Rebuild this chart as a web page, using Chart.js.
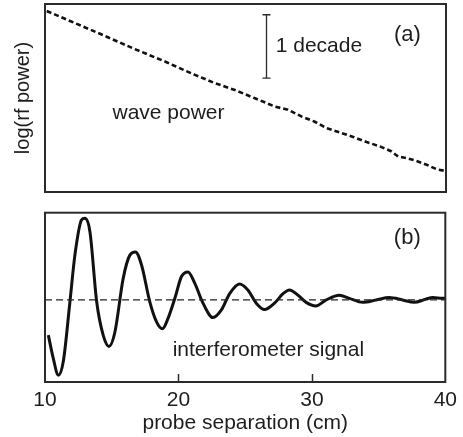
<!DOCTYPE html>
<html>
<head>
<meta charset="utf-8">
<script src="https://cdn.jsdelivr.net/npm/chart.js@4/dist/chart.umd.min.js"></script>
<style>
  html, body { margin: 0; padding: 0; background: #fff; }
  #wrap { position: relative; width: 463px; height: 437px; }
  #powerChart { position: absolute; left: 0; top: 0; }
  #signalChart { position: absolute; left: 0; top: 200px; }
</style>
</head>
<body>
<div id="wrap">
  <canvas id="powerChart" width="463" height="200"></canvas>
  <canvas id="signalChart" width="463" height="237"></canvas>
</div>
<script>
// (a) wave power along the probe separation, in decades (log10 of rf power)
const powerCm = [10.13, 11.12, 14.11, 16.58, 19.1, 19.72, 21.22, 22.71, 24.21, 25.71,
  27.2, 28.17, 29.22, 30.19, 31.07, 32.06, 33.06, 34.06, 35.06, 35.93,
  36.42, 37.17, 37.8, 38.55, 39.3, 40];
const powerLog = [-0.11, -0.2, -0.47, -0.7, -0.92, -0.98, -1.12, -1.25, -1.36, -1.49,
  -1.62, -1.67, -1.78, -1.86, -1.96, -2.03, -2.1, -2.18, -2.25, -2.33,
  -2.41, -2.44, -2.48, -2.54, -2.61, -2.64];

// (b) interferometer signal (arbitrary units, zero = baseline)
const signalCm = [10.25, 10.62, 11.0, 11.37, 11.87, 12.24, 12.74, 12.99, 13.37, 13.87,
  14.36, 14.79, 15.24, 15.86, 16.36, 16.78, 17.23, 17.85, 18.35, 18.8,
  19.22, 19.75, 20.22, 20.72, 21.22, 21.84, 22.59, 23.22, 23.84, 24.58,
  25.2, 25.83, 26.45, 27.2, 27.82, 28.32, 28.95, 29.57, 30.3, 31.07,
  32.06, 32.81, 33.8, 34.81, 35.8, 36.8, 37.67, 38.55, 39.05, 39.8, 40];
const signal = [-0.44, -0.73, -0.94, -0.77, -0.02, 0.56, 1.0, 1.02, 0.85, -0.02,
  -0.44, -0.58, -0.4, 0.27, 0.56, 0.6, 0.44, -0.02, -0.27, -0.36,
  -0.23, 0.03, 0.29, 0.35, 0.21, -0.04, -0.22, -0.125, 0.08, 0.2,
  0.125, -0.04, -0.12, -0.04, 0.075, 0.125, 0.06, -0.03, -0.075, 0,
  0.06, 0.02, -0.03, 0, 0.03, 0, -0.03, 0.01, 0.03, 0.02, 0.02];
const baselineCm = [10, 40];
const baseline = [0, 0];

const sepTicks = [10, 20, 30, 40];
const decadeBar = { cm: 26.55, top: -0.17, span: 1 };

const INK = '#1d1d1d';
const FONT = '"Liberation Sans", Arial, Helvetica, sans-serif';

const pts = (xs, ys) => xs.map((x, i) => ({ x, y: ys[i] }));

// Frame, inner ticks and free text labels
const decor = {
  id: 'decor',
  afterDatasetsDraw(chart, args, opts) {
    const { ctx, chartArea: a, scales } = chart;
    ctx.save();
    ctx.strokeStyle = '#2b2b2b';
    ctx.lineWidth = 2;
    ctx.strokeRect(a.left, a.top, a.right - a.left, a.bottom - a.top);

    if (opts.innerTicks) {
      ctx.lineWidth = 1.5;
      scales.x.ticks.forEach(t => {
        if (t.value <= scales.x.min || t.value >= scales.x.max) return;
        const px = Math.round(scales.x.getPixelForValue(t.value)) + 0.5;
        ctx.beginPath();
        ctx.moveTo(px, a.bottom);
        ctx.lineTo(px, a.bottom - 8);
        ctx.stroke();
      });
    }

    if (opts.bar) {
      const b = opts.bar;
      const px = Math.round(scales.x.getPixelForValue(b.cm)) + 0.5;
      const y1 = scales.y.getPixelForValue(b.top);
      const y2 = scales.y.getPixelForValue(b.top - b.span);
      ctx.strokeStyle = '#2b2b2b';
      ctx.lineWidth = 1.3;
      ctx.beginPath();
      ctx.moveTo(px, y1); ctx.lineTo(px, y2);
      ctx.moveTo(px - 4, y1); ctx.lineTo(px + 4, y1);
      ctx.moveTo(px - 4, y2); ctx.lineTo(px + 4, y2);
      ctx.stroke();
    }

    ctx.fillStyle = INK;
    ctx.textBaseline = 'middle';
    (opts.labels || []).forEach(l => {
      ctx.font = l.size + 'px ' + FONT;
      ctx.textAlign = l.align || 'center';
      ctx.fillText(l.text, scales.x.getPixelForValue(l.x), scales.y.getPixelForValue(l.y));
    });
    ctx.restore();
  }
};

const common = {
  responsive: false,
  animation: false,
  devicePixelRatio: 1,
  events: [],
};

new Chart(document.getElementById('powerChart'), {
  type: 'line',
  data: {
    datasets: [{
      data: pts(powerCm, powerLog),
      borderColor: '#111',
      borderWidth: 2.6,
      borderDash: [5, 3],
      pointRadius: 0,
      tension: 0,
    }]
  },
  options: {
    ...common,
    layout: { padding: { left: 0, right: 17, top: 4, bottom: 8 } },
    scales: {
      x: { type: 'linear', min: 10, max: 40, display: false },
      y: {
        type: 'linear', min: -2.97, max: 0,
        grid: { display: false, drawTicks: false },
        border: { display: false },
        ticks: { display: false },
        title: {
          display: true, text: 'log(rf power)', color: INK,
          font: { family: FONT, size: 20 }, padding: { top: 11, bottom: 0 }
        },
        afterFit(s) { s.width = 45; }
      }
    },
    plugins: {
      legend: { display: false },
      tooltip: { enabled: false },
      decor: {
        bar: decadeBar,
        labels: [
          { text: 'wave power', x: 19.24, y: -1.72, size: 21 },
          { text: '1 decade', x: 27.26, y: -0.66, size: 21, align: 'left' },
          { text: '(a)', x: 37.11, y: -0.49, size: 22 }
        ]
      }
    }
  },
  plugins: [decor]
});

new Chart(document.getElementById('signalChart'), {
  type: 'line',
  data: {
    datasets: [{
      data: pts(baselineCm, baseline),
      borderColor: '#222',
      borderWidth: 1.3,
      borderDash: [7, 4],
      pointRadius: 0,
    }, {
      data: pts(signalCm, signal),
      borderColor: '#111',
      borderWidth: 3,
      pointRadius: 0,
      cubicInterpolationMode: 'monotone',
    }]
  },
  options: {
    ...common,
    layout: { padding: { left: 45, right: 17, top: 12.7, bottom: 0 } },
    scales: {
      x: {
        type: 'linear', min: 10, max: 40,
        afterBuildTicks(s) { s.ticks = sepTicks.map(v => ({ value: v })); },
        grid: { display: false, drawTicks: false },
        border: { display: false },
        ticks: { color: INK, font: { family: FONT, size: 21 }, padding: 6, autoSkip: false, maxRotation: 0 },
        title: {
          display: true, text: 'probe separation (cm)', color: INK,
          font: { family: FONT, size: 21 }, padding: { top: 0, bottom: 1 }
        },
        afterFit(s) { s.height = 55; }
      },
      y: { type: 'linear', min: -1.025, max: 1.09, display: false }
    },
    plugins: {
      legend: { display: false },
      tooltip: { enabled: false },
      decor: {
        innerTicks: true,
        labels: [
          { text: '(b)', x: 37.15, y: 0.77, size: 22 },
          { text: 'interferometer signal', x: 26.74, y: -0.625, size: 21 }
        ]
      }
    }
  },
  plugins: [decor]
});
</script>
</body>
</html>
